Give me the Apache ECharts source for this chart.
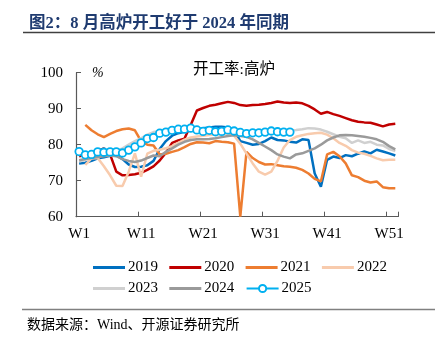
<!DOCTYPE html>
<html>
<head>
<meta charset="utf-8">
<script src="https://cdn.jsdelivr.net/npm/echarts@6/dist/echarts.min.js"></script>
<style>
  html, body { margin: 0; padding: 0; background: #fff; }
  #chart { width: 447px; height: 352px; }
</style>
</head>
<body>
<div id="chart"></div>
<script>
// weeks W1..W52
const weeks = []
for (let i = 1; i <= 52; i++) weeks.push("W" + i)

const y2019 = [74.8, 75.0, 75.5, 76.2, 76.5, 76.9, 77.0, 76.0, 74.5, 73.8,
  73.9, 74.3, 75.5, 78.8, 81.0, 82.5, 83.2, 83.6, 84.0, 84.3,
  84.6, 84.8, 85.0, 85.0, 84.8, 84.1, 81.0, 80.5, 80.0, 80.2,
  81.0, 82.0, 81.3, 81.2, 80.8, 80.6, 81.5, 81.3, 72.0, 68.3,
  75.8, 76.7, 76.3, 77.1, 76.8, 77.5, 78.1, 77.6, 78.6, 78.1,
  77.6, 77.0]

const y2020 = [76.8, 77.2, 77.6, 78.3, 79.0, 77.3, 72.5, 71.5, 71.6, 71.8,
  72.2, 73.0, 74.0, 75.6, 77.8, 80.5, 81.2, 81.7, 85.5, 89.5,
  90.2, 90.8, 91.1, 91.5, 91.9, 91.6, 91.0, 90.8, 91.0, 91.1,
  91.3, 91.6, 92.0, 91.7, 91.6, 91.7, 91.5, 90.8, 89.8, 88.6,
  89.1, 88.5, 88.0, 87.4, 86.8, 86.4, 86.2, 86.1, 85.6, 85.1,
  85.6, 85.8]

const y2021 = [null, 85.5, 84.0, 82.9, 82.1, 83.0, 83.8, 84.3, 84.5, 84.0,
  81.0, 80.0, 79.8, 77.3, 77.5, 78.0, 78.5, 79.3, 80.2, 80.7,
  80.6, 80.4, 81.0, 80.8, 80.7, 80.3, 60.0, 78.0, 76.3, 75.2,
  74.5, 74.6, 74.3, 74.0, 73.9, 73.6, 73.0, 72.0, 70.5, 69.8,
  77.3, 78.0, 76.8, 74.8, 71.5, 71.0, 70.0, 69.5, 69.8, 68.2,
  67.9, 67.9]

const y2022 = [null, 74.4, 76.2, 76.3, 74.0, 71.5, 68.6, 68.5, 72.5, 77.6,
  71.1, 77.5, 78.3, 78.6, 79.0, 79.6, 80.5, 81.4, 82.0, 82.3,
  82.5, 82.7, 82.8, 83.0, 83.2, 82.5, 80.3, 77.5, 74.8, 72.5,
  71.7, 72.5, 75.5, 79.2, 81.3, 82.2, 82.6, 83.0, 83.2, 83.3,
  82.8, 81.8, 80.5, 79.7, 78.5, 77.8, 77.5, 76.9, 76.2, 75.7,
  75.8, 75.8]

const y2023 = [75.3, 75.8, 76.3, 76.8, 77.2, 77.6, 78.2, 79.0, 80.0, 81.0,
  81.8, 82.8, 83.5, 83.8, 84.2, 84.6, 84.8, 84.8, 84.7, 84.5,
  84.3, 84.0, 83.8, 84.0, 84.1, 84.0, 83.8, 83.6, 83.4, 83.3,
  83.8, 84.1, 84.1, 84.0, 84.0, 84.1, 84.3, 84.6, 84.5, 84.2,
  83.6, 82.9, 82.2, 81.8, 80.5, 81.2, 80.5, 80.8, 80.0, 79.8,
  78.8, 78.2]

const y2024 = [75.7, 76.0, 76.3, 76.6, 76.8, 77.0, 76.8, 76.0, 75.5, 75.2,
  75.6, 76.3, 77.0, 76.8, 78.0, 79.0, 80.0, 80.8, 81.3, 81.5,
  81.5, 81.6, 81.8, 82.1, 82.4, 82.6, 82.4, 82.2, 81.5, 80.5,
  79.5, 78.5, 77.3, 76.7, 76.2, 77.3, 77.6, 78.3, 79.0, 80.0,
  81.2, 82.0, 82.6, 82.7, 82.6, 82.4, 82.2, 81.9, 81.5, 80.8,
  79.6, 78.7]

const y2025 = [78.1, 77.2, 77.3, 78.0, 77.9, 78.0, 78.0, 77.7, 78.5, 79.4,
  80.5, 81.7, 82.0, 83.2, 83.5, 84.0, 84.3, 84.3, 84.6, 84.1,
  83.7, 84.0, 83.6, 83.7, 84.1, 83.8, 83.4, 83.1, 83.3, 83.3,
  83.5, 83.8, 83.6, 83.5, 83.5]

const yTicks = [60, 70, 80, 90, 100]

const serif = "'Liberation Serif', 'Times New Roman', serif"
const cjk = "'Liberation Serif', 'Noto Sans CJK SC', serif"
const barIcon = "path://M0,0 L32,0 L32,3 L0,3 Z"

function line(name, data, color) {
  return {
    name: name,
    type: "line",
    data: data,
    symbol: "none",
    smooth: false,
    lineStyle: { color: color, width: 2.5 },
    itemStyle: { color: color }
  }
}

const chart = echarts.init(document.getElementById("chart"), null, { renderer: "canvas" })

chart.setOption({
  animation: false,
  backgroundColor: "#fff",
  title: [
    {
      text: "图2：8 月高炉开工好于 2024 年同期",
      left: 24, top: 10,
      textStyle: { fontFamily: cjk, fontSize: 16.5, fontWeight: "bold", color: "#1F3B70" }
    },
    {
      text: "开工率:高炉",
      left: 229, top: 57, textAlign: "center",
      textStyle: { fontFamily: cjk, fontSize: 15.5, fontWeight: "normal", color: "#000" }
    },
    {
      text: "数据来源：Wind、开源证券研究所",
      left: 22, top: 313,
      textStyle: { fontFamily: cjk, fontSize: 14, fontWeight: "normal", color: "#000" }
    }
  ],
  graphic: [
    { type: "line", shape: { x1: 23, y1: 32.5, x2: 435, y2: 32.5 }, style: { stroke: "#404040", lineWidth: 1.5 } },
    { type: "line", shape: { x1: 22, y1: 309.5, x2: 435, y2: 309.5 }, style: { stroke: "#808080", lineWidth: 1.5 } },
    { type: "text", left: 92, top: 66, style: { text: "%", font: "italic 14px " + serif, fill: "#000" } }
  ],
  legend: [
    {
      data: [
        { name: "2019", icon: barIcon },
        { name: "2020", icon: barIcon },
        { name: "2021", icon: barIcon },
        { name: "2022", icon: barIcon }
      ],
      left: 88, top: 255,
      itemWidth: 32, itemHeight: 9, itemGap: 11.3,
      textStyle: { fontFamily: serif, fontSize: 15, color: "#000", padding: [0, 0, 0, -2] }
    },
    {
      data: [
        { name: "2023", icon: barIcon },
        { name: "2024", icon: barIcon },
        "2025"
      ],
      left: 88, top: 276,
      itemWidth: 32, itemHeight: 9, itemGap: 11.3,
      textStyle: { fontFamily: serif, fontSize: 15, color: "#000", padding: [0, 0, 0, -2] }
    }
  ],
  grid: { left: 76, right: 48.6, top: 72.7, bottom: 135.3 },
  xAxis: {
    type: "category",
    data: weeks,
    boundaryGap: true,
    axisLine: { lineStyle: { color: "#595959", width: 1.2 } },
    axisTick: { show: true, inside: true, interval: 9, length: 5, lineStyle: { color: "#595959" } },
    axisLabel: { interval: 9, margin: 10, fontFamily: serif, fontSize: 15, color: "#000" },
    splitLine: { show: false }
  },
  yAxis: {
    type: "value",
    min: yTicks[0],
    max: yTicks[yTicks.length - 1],
    interval: 10,
    axisLine: { show: true, lineStyle: { color: "#595959", width: 1.2 } },
    axisTick: { show: true, inside: true, length: 5, lineStyle: { color: "#595959" } },
    axisLabel: { margin: 13, fontFamily: serif, fontSize: 15, color: "#000" },
    splitLine: { show: false }
  },
  series: [
    line("2019", y2019, "#0070C0"),
    line("2020", y2020, "#C00000"),
    line("2021", y2021, "#ED7D31"),
    line("2022", y2022, "#F8CBAD"),
    line("2023", y2023, "#D0D0D0"),
    line("2024", y2024, "#9A9A9A"),
    {
      name: "2025",
      type: "line",
      data: y2025,
      symbol: "circle",
      symbolSize: 7.5,
      showAllSymbol: true,
      lineStyle: { color: "#00B0F0", width: 2 },
      itemStyle: { color: "#fff", borderColor: "#00B0F0", borderWidth: 1.8 }
    }
  ]
})
</script>
</body>
</html>
